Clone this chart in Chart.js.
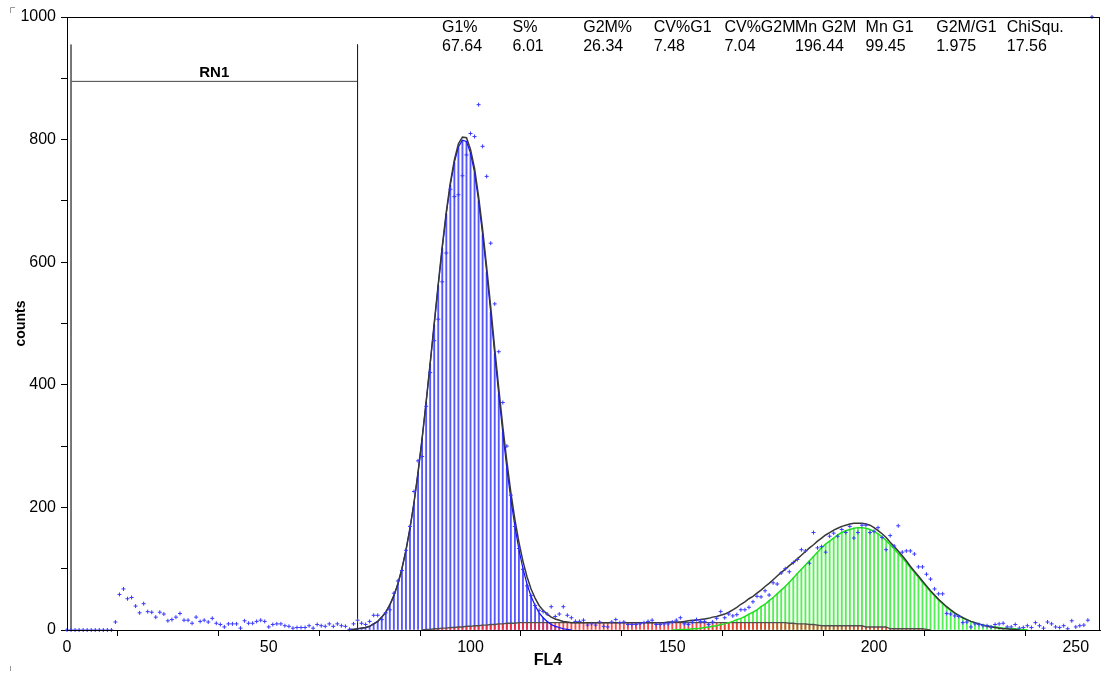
<!DOCTYPE html>
<html>
<head>
<meta charset="utf-8">
<script src="https://cdn.jsdelivr.net/npm/chart.js@4/dist/chart.umd.min.js"></script>
<style>
  html, body { margin: 0; padding: 0; background: #fff; }
  #wrap { width: 1107px; height: 673px; }
</style>
</head>
<body>
<div id="wrap"><canvas id="histChart" width="1107" height="673"></canvas></div>
<script>
// measured counts per channel 0..255
const counts = [
  0, 0, 0, 0, 0, 0, 0, 0, 0, 0, 0, 0, 13, 58, 67, 51,
  53, 39, 28, 43, 30, 29, 21, 29, 26, 15, 17, 21, 27, 16, 16, 11,
  21, 14, 16, 13, 19, 11, 9, 5, 10, 10, 10, 3, 15, 11, 11, 14,
  16, 14, 5, 9, 10, 10, 7, 6, 3, 4, 4, 4, 7, 3, 9, 7,
  6, 10, 6, 10, 7, 6, 1, 10, 16, 11, 9, 14, 24, 24, 17, 28,
  33, 60, 80, 97, 130, 169, 226, 276, 283, 365, 420, 472, 507, 568, 615, 719,
  707, 710, 741, 775, 810, 805, 857, 789, 740, 631, 532, 454, 371, 300, 220, 169,
  133, 99, 72, 56, 40, 32, 30, 26, 38, 22, 26, 38, 24, 20, 14, 14,
  16, 8, 10, 8, 13, 6, 5, 13, 17, 12, 13, 9, 9, 9, 10, 12,
  14, 16, 9, 9, 10, 10, 13, 16, 20, 10, 9, 13, 17, 14, 14, 9,
  13, 19, 30, 20, 26, 23, 25, 33, 33, 37, 46, 55, 54, 64, 57, 77,
  75, 93, 100, 95, 110, 115, 131, 129, 109, 159, 134, 136, 127, 153, 158, 153,
  164, 159, 169, 150, 159, 171, 171, 159, 161, 167, 151, 131, 154, 137, 170, 127,
  129, 129, 124, 103, 103, 91, 83, 67, 59, 59, 27, 26, 23, 22, 12, 13,
  5, 10, 9, 7, 7, 5, 9, 10, 11, 5, 5, 9, 3, 4, 7, 4,
  12, 7, 3, 13, 10, 5, 4, 7, 2, 15, 5, 7, 8, 16, 1000, null
];

// G1 peak fit, from channel 70
const g1Start = 70;
const g1Fit = [
  1, 1, 2, 3, 4, 6, 10, 14, 21, 29,
  41, 56, 75, 100, 130, 166, 208, 257, 312, 371,
  434, 498, 562, 623, 679, 726, 763, 788, 799, 797,
  778, 746, 700, 645, 584, 518, 450, 384, 322, 264,
  213, 169, 131, 100, 75, 55, 40, 28, 20, 14,
  9, 6, 4, 2, 1, 0
];

// S phase fit, from channel 88
const sStart = 88;
const sFit = [
  0, 1, 1, 2, 2, 3, 3, 4, 4, 5,
  5, 6, 6, 7, 7, 8, 8, 9, 9, 10,
  10, 11, 11, 11, 12, 12, 12, 12, 12, 12,
  12, 12, 12, 12, 12, 12, 12, 12, 12, 12,
  12, 12, 12, 12, 12, 12, 12, 12, 12, 12,
  12, 12, 12, 12, 12, 12, 12, 12, 12, 12,
  12, 12, 12, 12, 12, 12, 12, 12, 12, 12,
  12, 12, 12, 12, 12, 12, 12, 12, 12, 12,
  12, 12, 12, 12, 12, 12, 12, 12, 12, 12,
  12, 11, 11, 10, 10, 10, 9, 9, 8, 7,
  7, 7, 7, 7, 7, 7, 7, 7, 7, 7,
  5, 5, 5, 5, 5, 5, 2, 2, 2, 2,
  2, 2, 2, 2, 2, 1, 0
];

// G2/M peak fit, from channel 150
const g2Start = 150;
const g2Fit = [
  0, 0, 1, 1, 1, 2, 2, 3, 4, 5,
  6, 7, 9, 10, 12, 14, 17, 19, 22, 26,
  29, 33, 38, 42, 48, 53, 59, 65, 71, 78,
  85, 92, 99, 106, 113, 120, 127, 134, 140, 145,
  150, 155, 159, 162, 164, 166, 167, 167, 166, 164,
  161, 157, 152, 146, 139, 132, 125, 118, 110, 102,
  94, 86, 78, 70, 63, 56, 49, 43, 37, 32,
  27, 23, 20, 17, 14, 12, 10, 8, 7, 6,
  5, 4, 3, 3, 2, 2, 1, 1, 0
];

// total model curve, from channel 70
const totalStart = 70;
const totalFit = [
  1, 1, 2, 3, 4, 6, 10, 14, 21, 29,
  41, 56, 75, 100, 130, 166, 208, 257, 312, 372,
  435, 500, 564, 626, 682, 730, 767, 793, 804, 803,
  784, 753, 707, 653, 592, 527, 459, 394, 332, 275,
  224, 180, 143, 112, 87, 67, 52, 40, 32, 26,
  21, 18, 16, 14, 13, 12, 12, 12, 12, 12,
  12, 12, 12, 12, 12, 12, 12, 12, 12, 12,
  12, 12, 12, 12, 12, 12, 12, 12, 12, 13,
  13, 13, 13, 14, 15, 16, 16, 17, 18, 19,
  21, 22, 24, 26, 29, 33, 37, 42, 46, 51,
  55, 60, 65, 71, 76, 82, 88, 94, 99, 105,
  110, 116, 122, 128, 134, 139, 145, 150, 155, 159,
  163, 166, 169, 171, 173, 174, 174, 174, 173, 171,
  167, 162, 157, 151, 143, 136, 129, 121, 113, 104,
  96, 88, 80, 72, 64, 57, 50, 44, 38, 33,
  28, 24, 20, 17, 14, 12, 10, 8, 6, 5,
  4, 3, 2, 2, 1, 1, 0
];

// RN1 region marker
const rn1From = 1;
const rn1To = 72;
const rn1Top = 955;
const rn1Level = 895;

const statNames = ["G1%", "S%", "G2M%", "CV%G1", "CV%G2M", "Mn G2M", "Mn G1", "G2M/G1", "ChiSqu."];
const statValues = ["67.64", "6.01", "26.34", "7.48", "7.04", "196.44", "99.45", "1.975", "17.56"];

function toPoints(start, values) {
  return values.map((v, i) => ({ x: start + i, y: v }));
}

const rawPoints = counts
  .map((v, i) => ({ x: i, y: v }))
  .filter(p => p.y !== null);

const FONT = '"Liberation Sans", Arial, sans-serif';
Chart.defaults.font.family = FONT;
Chart.defaults.color = '#000';

const extras = {
  id: 'extras',
  afterDraw(chart) {
    const { ctx, chartArea: a, scales: { x, y } } = chart;
    ctx.save();

    // frame round the plot
    ctx.strokeStyle = '#000';
    ctx.lineWidth = 1;
    ctx.strokeRect(a.left + 0.5, a.top + 0.5, a.right - a.left - 1, a.bottom - a.top);

    // stats table
    ctx.fillStyle = '#000';
    ctx.font = '16px ' + FONT;
    ctx.textAlign = 'left';
    ctx.textBaseline = 'middle';
    statNames.forEach((name, i) => {
      const left = 442 + 70.6 * i;
      ctx.fillText(name, left, 28);
      ctx.fillText(statValues[i], left, 47);
    });

    // region label
    ctx.font = 'bold 15px ' + FONT;
    ctx.textAlign = 'center';
    ctx.textBaseline = 'alphabetic';
    ctx.fillText('RN1', x.getPixelForValue((rn1From + rn1To) / 2), y.getPixelForValue(rn1Level) - 4);

    // x axis title
    ctx.font = 'bold 16px ' + FONT;
    ctx.textBaseline = 'middle';
    ctx.fillText('FL4', 548, 661);

    // small corner marks of the frame
    ctx.strokeStyle = '#999';
    ctx.beginPath();
    ctx.moveTo(10.5, 13); ctx.lineTo(10.5, 7.5); ctx.lineTo(15, 7.5);
    ctx.moveTo(10.5, 666); ctx.lineTo(10.5, 671);
    ctx.stroke();

    ctx.restore();
  }
};

const ctx = document.getElementById('histChart');

new Chart(ctx, {
  type: 'bar',
  data: {
    datasets: [
      {
        type: 'scatter',
        data: rawPoints,
        pointStyle: 'cross',
        pointRadius: 2,
        borderColor: '#3a3aff',
        backgroundColor: '#3a3aff',
        borderWidth: 1,
        clip: false,
        order: 0
      },
      {
        type: 'line',
        data: toPoints(totalStart, totalFit),
        borderColor: '#383838',
        borderWidth: 1.5,
        pointRadius: 0,
        order: 1
      },
      {
        type: 'line',
        data: toPoints(g1Start, g1Fit),
        borderColor: '#1010ff',
        borderWidth: 1.2,
        pointRadius: 0,
        order: 2
      },
      {
        type: 'line',
        data: toPoints(g2Start, g2Fit),
        borderColor: '#22dd22',
        borderWidth: 1.5,
        pointRadius: 0,
        order: 2
      },
      {
        type: 'line',
        data: toPoints(sStart, sFit),
        borderColor: '#505050',
        borderWidth: 1.4,
        pointRadius: 0,
        order: 3
      },
      {
        data: toPoints(sStart, sFit),
        backgroundColor: 'rgba(255,40,40,0.85)',
        barThickness: 1.2,
        grouped: false,
        order: 4
      },
      {
        data: toPoints(g1Start, g1Fit),
        backgroundColor: 'rgba(45,45,255,0.8)',
        barThickness: 1.2,
        grouped: false,
        order: 5
      },
      {
        data: toPoints(g2Start, g2Fit),
        backgroundColor: 'rgba(50,240,50,0.85)',
        barThickness: 1.2,
        grouped: false,
        order: 5
      },
      {
        type: 'line',
        data: [{ x: rn1From, y: rn1Top }, { x: rn1From, y: 0 }],
        borderColor: '#666',
        borderWidth: 1,
        pointRadius: 0,
        order: 6
      },
      {
        type: 'line',
        data: [{ x: rn1To, y: rn1Top }, { x: rn1To, y: 0 }],
        borderColor: '#222',
        borderWidth: 1,
        pointRadius: 0,
        order: 6
      },
      {
        type: 'line',
        data: [{ x: rn1From, y: rn1Level }, { x: rn1To, y: rn1Level }],
        borderColor: '#444',
        borderWidth: 1,
        pointRadius: 0,
        order: 6
      }
    ]
  },
  options: {
    responsive: false,
    animation: false,
    devicePixelRatio: 1,
    layout: { padding: { top: 17, right: 7, left: 0, bottom: 0 } },
    plugins: { legend: { display: false }, tooltip: { enabled: false } },
    scales: {
      x: {
        type: 'linear',
        min: 0,
        max: 256,
        offset: false,
        afterFit(scale) { scale.height = 43; },
        grid: { display: true, drawOnChartArea: false, tickLength: 6, color: '#000' },
        border: { display: true, color: '#000', width: 1 },
        ticks: {
          stepSize: 25,
          includeBounds: false,
          autoSkip: false,
          maxRotation: 0,
          padding: 2,
          font: { size: 16 },
          color: '#000',
          callback: v => (v % 50 === 0 ? v : '')
        }
      },
      y: {
        min: 0,
        max: 1000,
        afterFit(scale) { scale.width = 67; },
        grid: { display: true, drawOnChartArea: false, tickLength: 6, color: '#000' },
        border: { display: true, color: '#000', width: 1 },
        ticks: {
          stepSize: 100,
          autoSkip: false,
          padding: 5,
          font: { size: 16 },
          color: '#000',
          callback: v => (v % 200 === 0 ? v : '')
        },
        title: {
          display: true,
          text: 'counts',
          font: { size: 14, weight: 'bold' },
          padding: { top: 13, bottom: 0 }
        }
      }
    }
  },
  plugins: [extras]
});
</script>
</body>
</html>
